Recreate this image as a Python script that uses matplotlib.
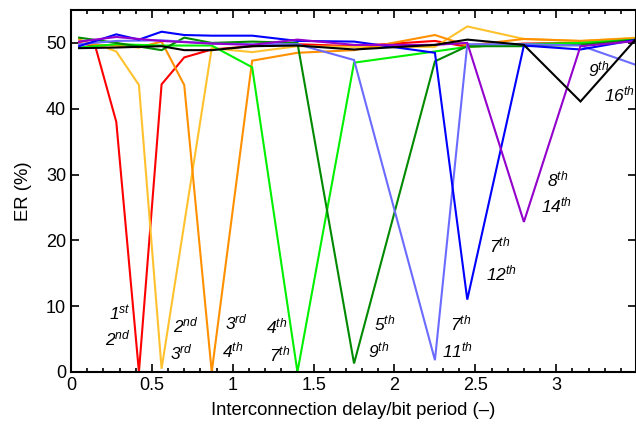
import matplotlib
matplotlib.use('Agg')
import matplotlib.pyplot as plt
from matplotlib.ticker import MultipleLocator

plt.rcParams['font.family'] = 'Liberation Sans'
plt.rcParams['mathtext.fontset'] = 'custom'
plt.rcParams['mathtext.rm'] = 'Liberation Sans'
plt.rcParams['mathtext.it'] = 'Liberation Sans:italic'

# ER curves, one per harmonic pair (delay normalised to bit period)
red_x = [0.05, 0.15, 0.28, 0.42, 0.56, 0.70, 0.87, 1.12, 1.40, 1.75, 2.25, 2.45, 2.80, 3.15, 3.50]
red_y = [50.0, 49.5, 38.0, 0.0, 43.7, 47.8, 49.0, 49.5, 49.8, 49.5, 50.3, 49.4, 49.9, 50.0, 50.3]

gold_x = [0.05, 0.15, 0.28, 0.42, 0.56, 0.87, 1.12, 1.40, 1.75, 2.25, 2.45, 2.80, 3.15, 3.50]
gold_y = [49.8, 49.9, 48.7, 43.6, 0.5, 49.2, 48.6, 49.5, 49.4, 49.4, 52.5, 50.6, 50.3, 50.8]

orange_x = [0.05, 0.15, 0.28, 0.42, 0.56, 0.70, 0.87, 1.12, 1.40, 1.75, 2.25, 2.45, 2.80, 3.15, 3.50]
orange_y = [50.5, 49.7, 49.6, 49.3, 50.2, 43.6, 0.0, 47.3, 48.5, 48.9, 51.2, 49.6, 50.6, 50.3, 50.7]

lime_x = [0.05, 0.28, 0.56, 0.87, 1.12, 1.40, 1.75, 2.25, 2.45, 2.80, 3.15, 3.50]
lime_y = [49.3, 49.8, 49.6, 49.6, 46.3, 0.0, 47.0, 48.7, 49.4, 49.8, 50.0, 50.5]

dgreen_x = [0.05, 0.28, 0.56, 0.70, 0.87, 1.12, 1.40, 1.75, 2.25, 2.45, 2.80, 3.15, 3.50]
dgreen_y = [50.8, 50.0, 48.9, 50.8, 50.0, 50.2, 50.0, 1.3, 47.2, 49.5, 49.5, 49.7, 50.5]

lblue_x = [0.05, 0.28, 0.56, 0.87, 1.12, 1.40, 1.75, 2.25, 2.45, 2.80, 3.15, 3.50]
lblue_y = [49.8, 50.3, 50.4, 49.9, 49.8, 49.8, 47.4, 1.8, 49.8, 49.8, 49.6, 46.6]

blue_x = [0.05, 0.28, 0.42, 0.56, 0.70, 0.87, 1.12, 1.40, 1.75, 2.25, 2.45, 2.80, 3.15, 3.50]
blue_y = [49.5, 51.3, 50.5, 51.7, 51.2, 51.1, 51.1, 50.3, 50.2, 48.5, 11.0, 49.6, 49.0, 50.5]

purple_x = [0.05, 0.28, 0.56, 0.87, 1.12, 1.40, 1.75, 2.25, 2.45, 2.80, 3.15, 3.50]
purple_y = [50.2, 50.9, 50.3, 49.9, 49.7, 50.5, 49.7, 49.7, 50.0, 22.8, 49.5, 50.3]

black_x = [0.05, 0.28, 0.56, 0.70, 0.87, 1.12, 1.40, 1.75, 2.25, 2.45, 2.80, 3.15, 3.50]
black_y = [49.2, 49.3, 49.5, 48.9, 48.9, 49.5, 49.6, 49.0, 49.7, 50.5, 49.7, 41.1, 50.8]

curves = [
    (red_x, red_y, '#ff0000'),
    (gold_x, gold_y, '#ffc22e'),
    (orange_x, orange_y, '#ff9000'),
    (lime_x, lime_y, '#00f000'),
    (dgreen_x, dgreen_y, '#008a00'),
    (lblue_x, lblue_y, '#6b6bff'),
    (blue_x, blue_y, '#0000ff'),
    (purple_x, purple_y, '#9300cc'),
    (black_x, black_y, '#000000'),
]

# harmonic order labels next to each dip
labels = [
    ('1', 'st', 0.30, 8.9), ('2', 'nd', 0.29, 5.1),
    ('2', 'nd', 0.71, 7.1), ('3', 'rd', 0.68, 2.9),
    ('3', 'rd', 1.02, 7.6), ('4', 'th', 1.00, 3.3),
    ('4', 'th', 1.27, 6.9), ('7', 'th', 1.29, 2.6),
    ('5', 'th', 1.94, 7.4), ('9', 'th', 1.90, 3.3),
    ('7', 'th', 2.41, 7.4), ('11', 'th', 2.39, 3.3),
    ('7', 'th', 2.65, 19.2), ('12', 'th', 2.66, 15.0),
    ('8', 'th', 3.01, 29.3), ('14', 'th', 3.00, 25.3),
    ('9', 'th', 3.26, 46.0), ('16', 'th', 3.39, 42.2),
]

fig = plt.figure(figsize=(6.36, 4.24), dpi=100)
ax = fig.add_axes([71 / 636, 52 / 424, 564.5 / 636, 362 / 424])

for xs, ys, c in curves:
    ax.plot(xs, ys, color=c, lw=1.5, solid_joinstyle='miter')

for num, suf, x, y in labels:
    ax.text(x, y, num + r'$^{' + suf + '}$', fontsize=12.5, style='italic',
            ha='center', va='center')

ax.set_xlim(0, 3.49)
ax.set_ylim(0, 55)
ax.xaxis.set_major_locator(MultipleLocator(0.5))
ax.xaxis.set_minor_locator(MultipleLocator(0.1))
ax.yaxis.set_major_locator(MultipleLocator(10))
ax.set_xticks([0, 0.5, 1, 1.5, 2, 2.5, 3])
ax.set_xticklabels(['0', '0.5', '1', '1.5', '2', '2.5', '3'])
ax.tick_params(which='both', direction='in', top=True, right=True, width=1.2, labelsize=13)
ax.tick_params(which='major', length=6)
ax.tick_params(which='minor', length=3)
for s in ax.spines.values():
    s.set_linewidth(1.5)

ax.set_xlabel('Interconnection delay/bit period (\u2013)', fontsize=13.3, labelpad=6)
ax.set_ylabel('ER (%)', fontsize=13.3, labelpad=10)

fig.savefig('out.png', dpi=100)
